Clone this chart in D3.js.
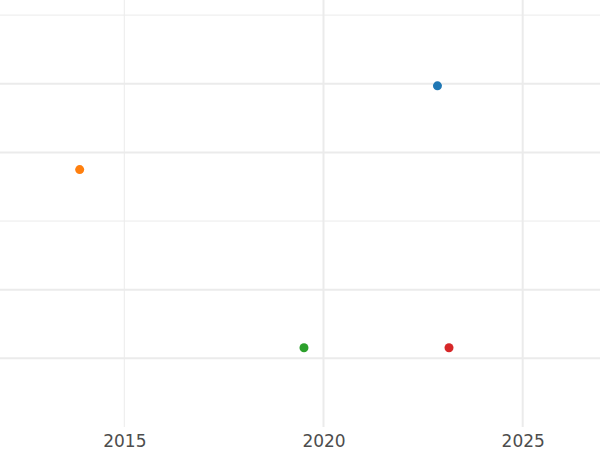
<!DOCTYPE html>
<html>
<head>
<meta charset="utf-8">
<script src="https://cdn.jsdelivr.net/npm/d3@7"></script>
<style>
  html, body { margin: 0; padding: 0; background: #fff; }
  svg { display: block; }
</style>
</head>
<body>
<svg id="chart" width="600" height="450"></svg>
<script>
// ---- data ----
const years = [2022.86, 2013.88, 2019.51, 2023.15];
const values = [3.97, 2.75, 0.155, 0.155];
const colors = ["#1f77b4", "#ff7f0e", "#2ca02c", "#d62728"];
const xTickValues = [2015, 2020, 2025];
const xTickLabels = ["2015", "2020", "2025"];
const xMajorGrid = [2020, 2025];
const xMinorGrid = [2015];
const yMajorGrid = [0, 1, 3, 4];
const yMinorGrid = [2, 5];

const W = 600, panelBottom = 427;
const svg = d3.select("#chart");

const x = d3.scaleLinear().domain([2011.88, 2026.94]).range([0, W]);
const y = d3.scaleLinear().domain([-1.0, 5.22]).range([panelBottom, 0]);

const grid = svg.append("g");
// horizontal grid
grid.selectAll("line.ymin").data(yMinorGrid).join("line")
  .attr("x1", 0).attr("x2", W)
  .attr("y1", d => y(d)).attr("y2", d => y(d))
  .attr("stroke", "#ebebeb").attr("stroke-width", 1);
grid.selectAll("line.ymaj").data(yMajorGrid).join("line")
  .attr("x1", 0).attr("x2", W)
  .attr("y1", d => y(d)).attr("y2", d => y(d))
  .attr("stroke", "#ebebeb").attr("stroke-width", 2);
// vertical grid
grid.selectAll("line.xmin").data(xMinorGrid).join("line")
  .attr("y1", 0).attr("y2", panelBottom)
  .attr("x1", d => x(d)).attr("x2", d => x(d))
  .attr("stroke", "#ebebeb").attr("stroke-width", 1);
grid.selectAll("line.xmaj").data(xMajorGrid).join("line")
  .attr("y1", 0).attr("y2", panelBottom)
  .attr("x1", d => x(d)).attr("x2", d => x(d))
  .attr("stroke", "#ebebeb").attr("stroke-width", 2);

// x axis labels via d3 axis
const xAxis = d3.axisBottom(x)
  .tickValues(xTickValues)
  .tickFormat((d, i) => xTickLabels[i])
  .tickSize(0).tickPadding(0);
const gx = svg.append("g").attr("transform", `translate(0,${panelBottom})`).call(xAxis);
gx.select(".domain").remove();
gx.selectAll("text")
  .attr("dy", null).attr("y", 20)
  .attr("font-family", "DejaVu Sans").attr("font-size", 17)
  .attr("fill", "#4d4d4d");

// points
svg.append("g").selectAll("circle")
  .data(years.map((d, i) => ({ x: d, y: values[i], c: colors[i] })))
  .join("circle")
  .attr("cx", d => x(d.x)).attr("cy", d => y(d.y))
  .attr("r", 4.5).attr("fill", d => d.c);
</script>
</body>
</html>
